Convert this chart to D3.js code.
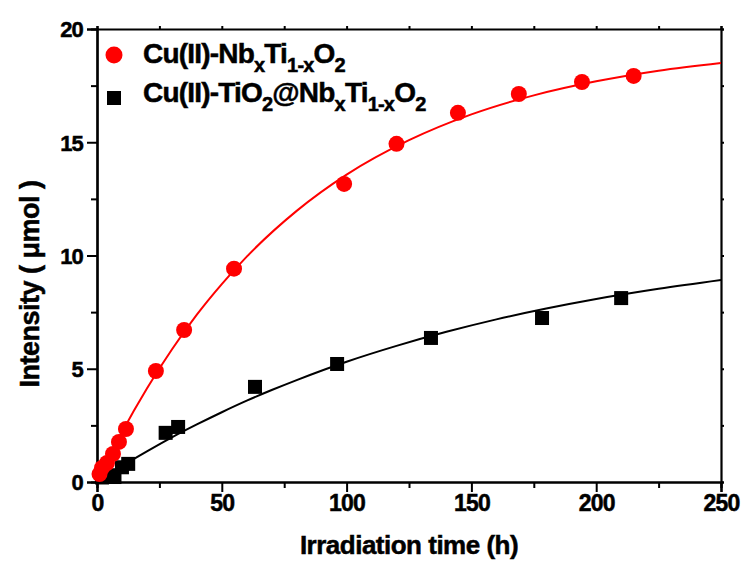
<!DOCTYPE html>
<html>
<head>
<meta charset="utf-8">
<script src="https://cdn.jsdelivr.net/npm/d3@7"></script>
<style>
  body { margin: 0; background: #fff; }
  svg { font-family: "Liberation Sans", Arial, sans-serif; font-weight: bold; }
</style>
</head>
<body>
<svg width="745" height="568"></svg>
<script>
// measured points (hours, umol)
var redTime = [1, 2, 4, 6.4, 8.8, 11.6, 23.6, 34.9, 54.9, 99, 120, 144.6, 169, 194.3, 215];
var redVal  = [0.35, 0.62, 0.84, 1.24, 1.77, 2.34, 4.9, 6.71, 9.42, 13.16, 14.93, 16.3, 17.13, 17.66, 17.93];
var blackTime = [2, 5, 7, 10, 12.5, 27.5, 32.5, 63.3, 96.2, 133.8, 178.3, 210];
var blackVal  = [0.2, 0.3, 0.22, 0.65, 0.8, 2.17, 2.43, 4.2, 5.21, 6.36, 7.24, 8.12];

// fitted curves
var redFitTime = [0, 5, 10, 20, 30, 40, 50, 60, 80, 100, 125, 150, 175, 200, 225, 250];
var redFitVal  = [0.3, 1.15, 2.2, 4.13, 5.85, 7.39, 8.74, 9.95, 11.97, 13.57, 15.09, 16.23, 17.07, 17.69, 18.16, 18.5];
var blackFitTime = [0, 10, 20, 30, 40, 50, 60, 70, 80, 100, 120, 140, 160, 180, 200, 225, 250];
var blackFitVal  = [0, 0.7, 1.35, 1.97, 2.54, 3.08, 3.59, 4.06, 4.5, 5.31, 6.01, 6.63, 7.18, 7.66, 8.08, 8.53, 8.92];

var xTicks = [0, 50, 100, 150, 200, 250];
var yTicks = [0, 5, 10, 15, 20];

var svg = d3.select("svg"),
    margin = {top: 29, right: 24, bottom: 86, left: 97},
    width = 745 - margin.left - margin.right,
    height = 568 - margin.top - margin.bottom,
    g = svg.append("g").attr("transform", "translate(" + margin.left + "," + margin.top + ")");

var x = d3.scaleLinear().domain([0, 250]).range([0, width]);
var y = d3.scaleLinear().domain([0, 20]).range([height, 0]);

function zip(a, b) { return a.map(function(v, i) { return [v, b[i]]; }); }

// minor ticks first
var xMinor = d3.range(25, 250, 50), yMinor = d3.range(2.5, 20, 5);

g.append("g").attr("transform", "translate(0," + height + ")")
    .call(d3.axisBottom(x).tickValues(xMinor).tickSize(6).tickFormat(""));
g.append("g")
    .call(d3.axisLeft(y).tickValues(yMinor).tickSize(6).tickFormat(""));
g.append("g")
    .call(d3.axisTop(x).tickValues(d3.range(0, 251, 25)).tickSize(3).tickFormat(""));
g.append("g").attr("transform", "translate(" + width + ",0)")
    .call(d3.axisRight(y).tickValues(d3.range(0, 20.1, 2.5)).tickSize(3).tickFormat(""));

var xAxis = g.append("g").attr("transform", "translate(0," + height + ")")
    .call(d3.axisBottom(x).tickValues(xTicks).tickSize(10).tickPadding(3));
var yAxis = g.append("g")
    .call(d3.axisLeft(y).tickValues(yTicks).tickSize(10).tickPadding(4));

g.selectAll(".domain").attr("stroke", "#000").attr("stroke-width", 2.2);
g.selectAll(".tick line").attr("stroke", "#000").attr("stroke-width", 2);
g.selectAll(".tick text").attr("font-weight", "bold").attr("fill", "#000")
    .attr("font-family", "Liberation Sans, Arial, sans-serif").attr("letter-spacing", -0.8)
    .attr("stroke", "#000").attr("stroke-width", 0.5);
xAxis.selectAll("text").attr("font-size", 23);
yAxis.selectAll("text").attr("font-size", 22).attr("dy", "0.36em");

// fit lines
var line = d3.line()
    .x(function(d) { return x(d[0]); })
    .y(function(d) { return y(d[1]); })
    .curve(d3.curveMonotoneX);

g.append("path").datum(zip(redFitTime, redFitVal))
    .attr("fill", "none").attr("stroke", "#ff0000").attr("stroke-width", 2)
    .attr("d", line);
g.append("path").datum(zip(blackFitTime, blackFitVal))
    .attr("fill", "none").attr("stroke", "#000").attr("stroke-width", 2)
    .attr("d", line);

// markers
g.selectAll(".sq").data(zip(blackTime, blackVal)).enter().append("rect")
    .attr("x", function(d) { return x(d[0]) - 7; })
    .attr("y", function(d) { return y(d[1]) - 7; })
    .attr("width", 14).attr("height", 14).attr("fill", "#000");
g.selectAll(".dot").data(zip(redTime, redVal)).enter().append("circle")
    .attr("cx", function(d) { return x(d[0]); })
    .attr("cy", function(d) { return y(d[1]); })
    .attr("r", 8).attr("fill", "#ff0000");

// legend
svg.append("circle").attr("cx", 114).attr("cy", 55).attr("r", 8.5).attr("fill", "#ff0000");
svg.append("rect").attr("x", 107).attr("y", 91).attr("width", 14).attr("height", 14).attr("fill", "#000");

function formula(t, parts) {
  parts.forEach(function(p) {
    var s = t.append("tspan").text(p[0]);
    if (p[1]) s.attr("font-size", 20).attr("dy", 9);
    else if (p[2]) s.attr("dy", -9);
  });
}
var l1 = svg.append("text").attr("x", 143).attr("y", 63).attr("font-size", 28)
    .attr("letter-spacing", -0.8).attr("stroke", "#000").attr("stroke-width", 0.5);
formula(l1, [["Cu(II)-Nb"], ["x", 1], ["Ti", 0, 1], ["1-x", 1], ["O", 0, 1], ["2", 1]]);
var l2 = svg.append("text").attr("x", 143).attr("y", 102).attr("font-size", 28)
    .attr("letter-spacing", -0.8).attr("stroke", "#000").attr("stroke-width", 0.5);
formula(l2, [["Cu(II)-TiO"], ["2", 1], ["@Nb", 0, 1], ["x", 1], ["Ti", 0, 1], ["1-x", 1], ["O", 0, 1], ["2", 1]]);

// axis titles
svg.append("text").attr("x", margin.left + width / 2).attr("y", 554)
    .attr("text-anchor", "middle").attr("font-size", 26).attr("letter-spacing", -0.5)
    .attr("stroke", "#000").attr("stroke-width", 0.5)
    .text("Irradiation time (h)");
svg.append("text").attr("transform", "translate(39,284) rotate(-90)")
    .attr("text-anchor", "middle").attr("font-size", 27).attr("letter-spacing", -0.5)
    .attr("stroke", "#000").attr("stroke-width", 0.5)
    .text("Intensity ( \u03bcmol )");
</script>
</body>
</html>
